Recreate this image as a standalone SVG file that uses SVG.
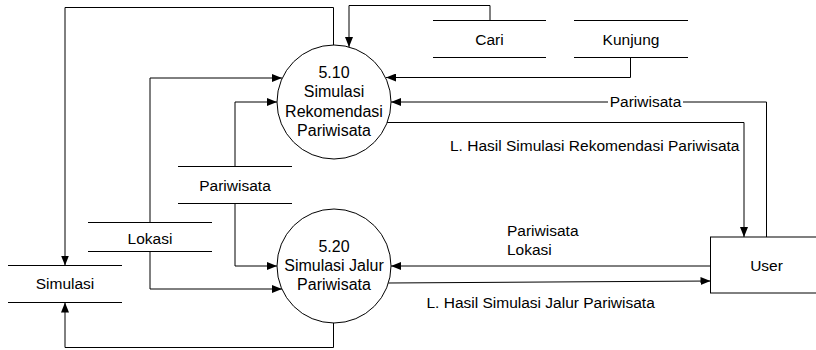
<svg xmlns="http://www.w3.org/2000/svg" width="816" height="350" viewBox="0 0 816 350">
<defs>
<style>
text{font-family:"Liberation Sans",Arial,sans-serif;font-size:15.5px;fill:#000}
.c{text-anchor:middle}
.pt{font-size:16px}
.proc{fill:#fff;stroke:#000;stroke-width:1}
.store{stroke:#000;stroke-width:1;fill:none}
.flow{fill:none;stroke:#000;stroke-width:1}
.ent{fill:#fff;stroke:#000;stroke-width:1}
</style>
<marker id="arr" markerWidth="10" markerHeight="8" refX="10" refY="4" orient="auto" markerUnits="userSpaceOnUse">
<path d="M0,0 L10,4 L0,8 z" fill="#000"/>
</marker>
</defs>
<rect width="816" height="350" fill="#fff"/>
<g id="connectors">
<path class="flow" d="M490,20.5 V5.5 H349 V47" marker-end="url(#arr)"/>
<path class="flow" d="M333.5,45 V7.5 H65 V265.5" marker-end="url(#arr)"/>
<path class="flow" d="M630.5,57.5 V77.5 H386" marker-end="url(#arr)"/>
<path class="flow" d="M766.5,237 V102 H391" marker-end="url(#arr)"/>
<path class="flow" d="M387,122.5 H744 V237" marker-end="url(#arr)"/>
<path class="flow" d="M150,222.5 V78 H282" marker-end="url(#arr)"/>
<path class="flow" d="M235,166.5 V102 H277" marker-end="url(#arr)"/>
<path class="flow" d="M235,203.5 V266 H277" marker-end="url(#arr)"/>
<path class="flow" d="M150,251.5 V289 H282" marker-end="url(#arr)"/>
<path class="flow" d="M710.5,266 H391" marker-end="url(#arr)"/>
<path class="flow" d="M388,283 L710.5,281" marker-end="url(#arr)"/>
<path class="flow" d="M333.5,323 V347.5 H65 V302.5" marker-end="url(#arr)"/>
<rect x="608" y="94" width="75" height="16" fill="#fff"/>
<text class="c" x="645.5" y="107">Pariwisata</text>
<text x="450" y="150.5">L. Hasil Simulasi Rekomendasi Pariwisata</text>
<text x="507" y="236">Pariwisata</text>
<text x="507" y="255">Lokasi</text>
<text x="426.5" y="307.5">L. Hasil Simulasi Jalur Pariwisata</text>
</g>
<g id="p510">
<circle class="proc" cx="334" cy="102" r="57"/>
<text class="c pt" x="334" y="78">5.10</text>
<text class="c pt" x="334" y="97">Simulasi</text>
<text class="c pt" x="334" y="116.5">Rekomendasi</text>
<text class="c pt" x="334" y="135.5">Pariwisata</text>
</g>
<g id="p520">
<circle class="proc" cx="334" cy="266" r="57"/>
<text class="c pt" x="334" y="251.5">5.20</text>
<text class="c pt" x="334" y="271">Simulasi Jalur</text>
<text class="c pt" x="334" y="290">Pariwisata</text>
</g>
<g id="user">
<rect class="ent" x="710.5" y="237" width="130" height="56"/>
<text class="c" x="766.5" y="271">User</text>
</g>
<g id="ds-cari">
<path class="store" d="M433,20.5 H546 M433,57.5 H546"/>
<text class="c" x="489.5" y="44.5">Cari</text>
</g>
<g id="ds-kunjung">
<path class="store" d="M574,20.5 H688 M574,57.5 H688"/>
<text class="c" x="631" y="44.5">Kunjung</text>
</g>
<g id="ds-pariwisata">
<path class="store" d="M178,166.5 H292 M178,203.5 H292"/>
<text class="c" x="235" y="190.5">Pariwisata</text>
</g>
<g id="ds-lokasi">
<path class="store" d="M88,222.5 H212 M88,251.5 H212"/>
<text class="c" x="150" y="243.5">Lokasi</text>
</g>
<g id="ds-simulasi">
<path class="store" d="M8,265.5 H122 M8,302.5 H122"/>
<text class="c" x="65" y="289">Simulasi</text>
</g>
</svg>
